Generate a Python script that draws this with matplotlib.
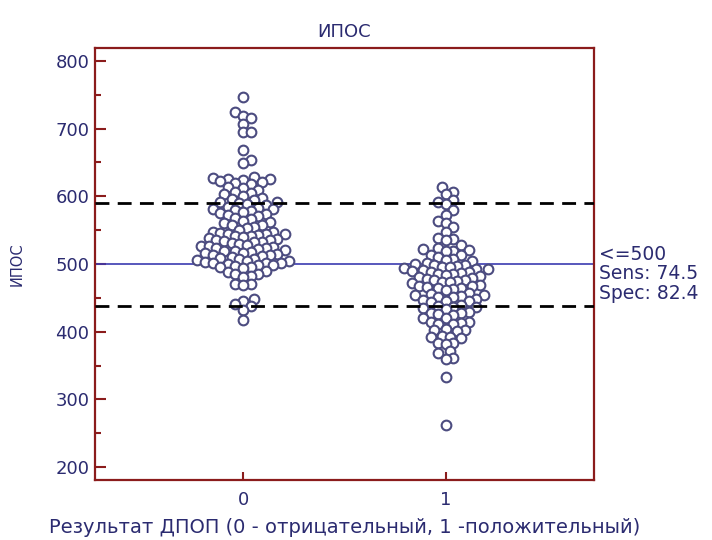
import numpy as np
import matplotlib
matplotlib.use("Agg")
import matplotlib.pyplot as plt
from matplotlib.ticker import MultipleLocator

plt.rcParams['font.family'] = ['DejaVu Sans']

# values
group_labels = ['0', '1']
ipos_neg = [747, 725, 719, 716, 707, 695, 695, 668, 654, 649,
            628, 627, 626, 625, 624, 623, 621, 620, 618,
            614, 612, 610, 607, 605, 603,
            600, 598, 596, 594, 592, 591, 590,
            588, 587, 585, 583, 582, 581, 580,
            578, 577, 575, 574, 572, 571,
            568, 566, 564, 562, 560,
            558, 557, 555, 553, 551,
            548, 547, 546, 545, 545, 544, 543, 542, 541, 540,
            538, 537, 536, 535, 534, 533, 532, 531, 530,
            528, 527, 526, 525, 524, 523, 522, 521,
            520, 519, 518, 517, 516, 515, 514, 513, 512,
            510, 509, 508, 507, 506, 505, 504, 503, 502, 502, 501,
            500, 499, 498, 497, 496, 495, 494,
            490, 488, 486, 485, 483, 481,
            471, 470, 469, 449, 446, 441, 438, 432, 417]
ipos_pos = [614, 606, 603, 594, 591, 588, 580, 572, 563, 560, 555, 547,
            539, 537, 535, 528, 523, 522, 521, 520, 519, 514, 513, 511,
            508, 506, 504, 502,
            500, 499, 498, 497, 496, 495, 494, 493, 492,
            491, 490, 489, 488, 487, 486, 485, 484, 483, 481,
            479, 478, 477, 476, 475, 474, 473, 472,
            469, 468, 467, 466, 465, 464, 463, 462,
            457, 456, 455, 454, 453, 452, 451,
            448, 447, 446, 445, 444,
            439, 438, 437, 436, 435, 434,
            429, 428, 427, 426, 425,
            421, 420,
            415, 414, 413, 412, 411,
            404, 403, 402, 401,
            394, 393, 392, 391,
            384, 383, 382,
            371, 369, 361, 360, 333, 262]
cutoff = 500
upper_ref = 590
lower_ref = 438
criterion_text = ['<=500', 'Sens: 74.5', 'Spec: 82.4']

text_col = '#2b2b70'
frame_col = '#8b1c1c'
dot_col = '#4c4c80'

fig = plt.figure(figsize=(7.12, 5.4), dpi=100)
ax = fig.add_axes([0.1334, 0.111, 0.7008, 0.80])
ax.set_xlim(-0.73, 1.73)
ax.set_ylim(181, 819)


def swarm_offsets(values, ax, spacing_px=7.6):
    # greedy beeswarm in pixel space
    trans = ax.transData
    order = np.argsort(values)
    placed = []
    offsets = np.zeros(len(values))
    px_per_x = trans.transform((1, 0))[0] - trans.transform((0, 0))[0]
    for i in order:
        yp = trans.transform((0, values[i]))[1]
        best = None
        for k in range(0, 60):
            for s in ([0] if k == 0 else [k, -k]):
                xp = s * spacing_px / 2.0
                ok = True
                for (px, py) in placed:
                    if (px - xp) ** 2 + (py - yp) ** 2 < spacing_px ** 2:
                        ok = False
                        break
                if ok:
                    best = xp
                    break
            if best is not None:
                break
        placed.append((best, yp))
        offsets[i] = best / px_per_x
    return offsets


for gi, vals in enumerate([ipos_neg, ipos_pos]):
    vals = np.array(vals, dtype=float)
    off = swarm_offsets(vals, ax)
    ax.plot(gi + off, vals, 'o', ms=7.0, mfc='white', mec=dot_col, mew=1.5,
            zorder=3)

ax.axhline(cutoff, color='#3b3bb0', lw=1.2, zorder=2)
ax.axhline(upper_ref, color='black', lw=2, ls=(0, (5, 3)), zorder=4)
ax.axhline(lower_ref, color='black', lw=2, ls=(0, (5, 3)), zorder=4)

for sp in ax.spines.values():
    sp.set_color(frame_col)
    sp.set_linewidth(1.6)

ax.set_xticks([0, 1])
ax.set_xticklabels(group_labels)
ax.yaxis.set_major_locator(MultipleLocator(100))
ax.yaxis.set_minor_locator(MultipleLocator(50))
ax.tick_params(axis='y', which='major', direction='in', length=8, width=1.5,
               color=frame_col, labelcolor=text_col, labelsize=13, pad=4)
ax.tick_params(axis='y', which='minor', direction='in', length=4, width=1.5,
               color=frame_col)
ax.tick_params(axis='x', which='major', direction='in', length=6, width=1.5,
               color=frame_col, labelcolor=text_col, labelsize=13, pad=8)

ax.set_title('ИПОС', color=text_col, fontsize=13, pad=8)
ax.set_ylabel('ИПОС', color=text_col, fontsize=10.5, labelpad=22)
ax.set_xlabel('Результат ДПОП (0 - отрицательный, 1 -положительный)',
              color=text_col, fontsize=14, labelpad=6)

for j, t in enumerate(criterion_text):
    ax.text(1.01, 0.522 - j * 0.045, t, transform=ax.transAxes,
            color=text_col, fontsize=13.5, va='center', ha='left')

fig.savefig('out.png', dpi=100)
